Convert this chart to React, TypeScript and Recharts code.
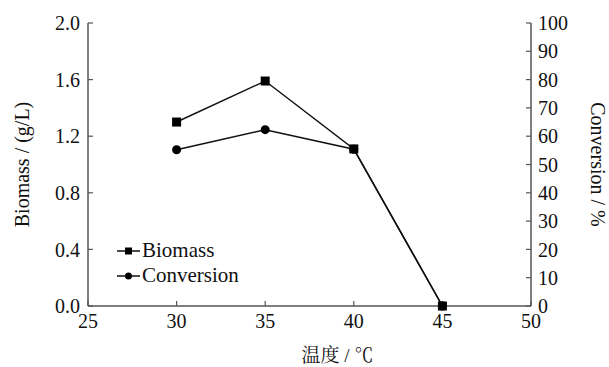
import React from "react";
import {
  LineChart,
  Line,
  XAxis,
  YAxis,
  Legend,
} from "recharts";

const temperatures = [30, 35, 40, 45];
const biomass = [1.3, 1.59, 1.11, 0];
const conversion = [55.2, 62.3, 55.4, 0];

const xTicks = [25, 30, 35, 40, 45, 50];
const leftTicks = [0, 0.4, 0.8, 1.2, 1.6, 2.0];
const rightTicks = [0, 10, 20, 30, 40, 50, 60, 70, 80, 90, 100];

const seriesNames = ["Biomass", "Conversion"];

const data = temperatures.map((t, i) => ({
  temp: t,
  biomass: biomass[i],
  conversion: conversion[i],
}));

const FONT = "Liberation Serif, Times New Roman, Times, DejaVu Serif, serif";
const CJK_FONT = "Liberation Serif, Times New Roman, Noto Serif CJK SC, Noto Sans CJK SC, serif";
const AXIS = "#555";
const INK = "#111";

const tickStyle = { fill: INK, fontSize: 20, fontFamily: FONT };

const SquareDot = (props: any) => {
  const { cx, cy, index } = props;
  if (cx == null || cy == null) return <g key={`sq-${index}`} />;
  return (
    <rect key={`sq-${index}`} x={cx - 4.5} y={cy - 4.5} width={9} height={9} fill="#000" />
  );
};

const CircleDot = (props: any) => {
  const { cx, cy, index } = props;
  if (cx == null || cy == null) return <g key={`ci-${index}`} />;
  return <circle key={`ci-${index}`} cx={cx} cy={cy} r={4.5} fill="#000" />;
};

const renderLegend = () => (
  <div style={{ fontFamily: FONT, fontSize: 21, color: INK, lineHeight: "25px" }}>
    {seriesNames.map((name, i) => (
      <div key={name} style={{ display: "flex", alignItems: "center", height: 25 }}>
        <svg width={25} height={12} style={{ display: "block" }}>
          <line x1={0} y1={6} x2={23} y2={6} stroke={INK} strokeWidth={1.5} />
          {i === 0 ? (
            <rect x={8} y={2.5} width={7} height={7} fill="#000" />
          ) : (
            <circle cx={11.5} cy={6} r={3.5} fill="#000" />
          )}
        </svg>
        <span>{name}</span>
      </div>
    ))}
  </div>
);

const leftTitle = ({ viewBox }: any) => {
  const x = viewBox.x - 6;
  const y = viewBox.y + viewBox.height / 2;
  return (
    <text
      x={x}
      y={y}
      transform={`rotate(-90 ${x} ${y})`}
      textAnchor="middle"
      dominantBaseline="central"
      fontFamily={FONT}
      fontSize={20}
      fill={INK}
    >
      Biomass / (g/L)
    </text>
  );
};

const rightTitle = ({ viewBox }: any) => {
  const x = viewBox.x + 67;
  const y = viewBox.y + viewBox.height / 2;
  return (
    <text
      x={x}
      y={y}
      transform={`rotate(90 ${x} ${y})`}
      textAnchor="middle"
      dominantBaseline="central"
      fontFamily={FONT}
      fontSize={20}
      fill={INK}
    >
      Conversion / %
    </text>
  );
};

const bottomTitle = ({ viewBox }: any) => (
  <text
    x={viewBox.x + viewBox.width / 2 + 28}
    y={viewBox.y + 49}
    textAnchor="middle"
    dominantBaseline="central"
    fontFamily={CJK_FONT}
    fontSize={19}
    fill={INK}
  >
    温度 / ℃
  </text>
);

export default function App() {
  return (
    <div style={{ position: "absolute", left: 0, top: 0, background: "#fff" }}>
      <LineChart
        width={609}
        height={367}
        data={data}
        margin={{ top: 23, right: 18, bottom: 31, left: 28 }}
      >
        <XAxis
          type="number"
          dataKey="temp"
          domain={[25, 50]}
          ticks={xTicks}
          interval={0}
          height={30}
          tickSize={-5}
          tickMargin={13}
          axisLine={{ stroke: AXIS, strokeWidth: 1.5 }}
          tickLine={{ stroke: AXIS, strokeWidth: 1.2 }}
          tick={tickStyle}
          label={{ content: bottomTitle }}
        />
        <YAxis
          yAxisId="left"
          domain={[0, 2]}
          ticks={leftTicks}
          interval={0}
          width={60}
          tickSize={-5}
          tickMargin={13}
          tickFormatter={(v: number) => v.toFixed(1)}
          axisLine={{ stroke: AXIS, strokeWidth: 1.5 }}
          tickLine={{ stroke: AXIS, strokeWidth: 1.2 }}
          tick={tickStyle}
          label={{ content: leftTitle }}
        />
        <YAxis
          yAxisId="right"
          orientation="right"
          domain={[0, 100]}
          ticks={rightTicks}
          interval={0}
          width={60}
          tickSize={-5}
          tickMargin={12}
          axisLine={{ stroke: AXIS, strokeWidth: 1.5 }}
          tickLine={{ stroke: AXIS, strokeWidth: 1.2 }}
          tick={tickStyle}
          label={{ content: rightTitle }}
        />
        <Legend
          layout="vertical"
          align="center"
          verticalAlign="middle"
          content={renderLegend}
          wrapperStyle={{ left: 117, top: 238, width: "auto" }}
        />
        <Line
          yAxisId="right"
          dataKey="conversion"
          name={seriesNames[1]}
          stroke={INK}
          strokeWidth={1.5}
          dot={CircleDot}
          activeDot={false}
          isAnimationActive={false}
        />
        <Line
          yAxisId="left"
          dataKey="biomass"
          name={seriesNames[0]}
          stroke={INK}
          strokeWidth={1.5}
          dot={SquareDot}
          activeDot={false}
          isAnimationActive={false}
        />
      </LineChart>
    </div>
  );
}
